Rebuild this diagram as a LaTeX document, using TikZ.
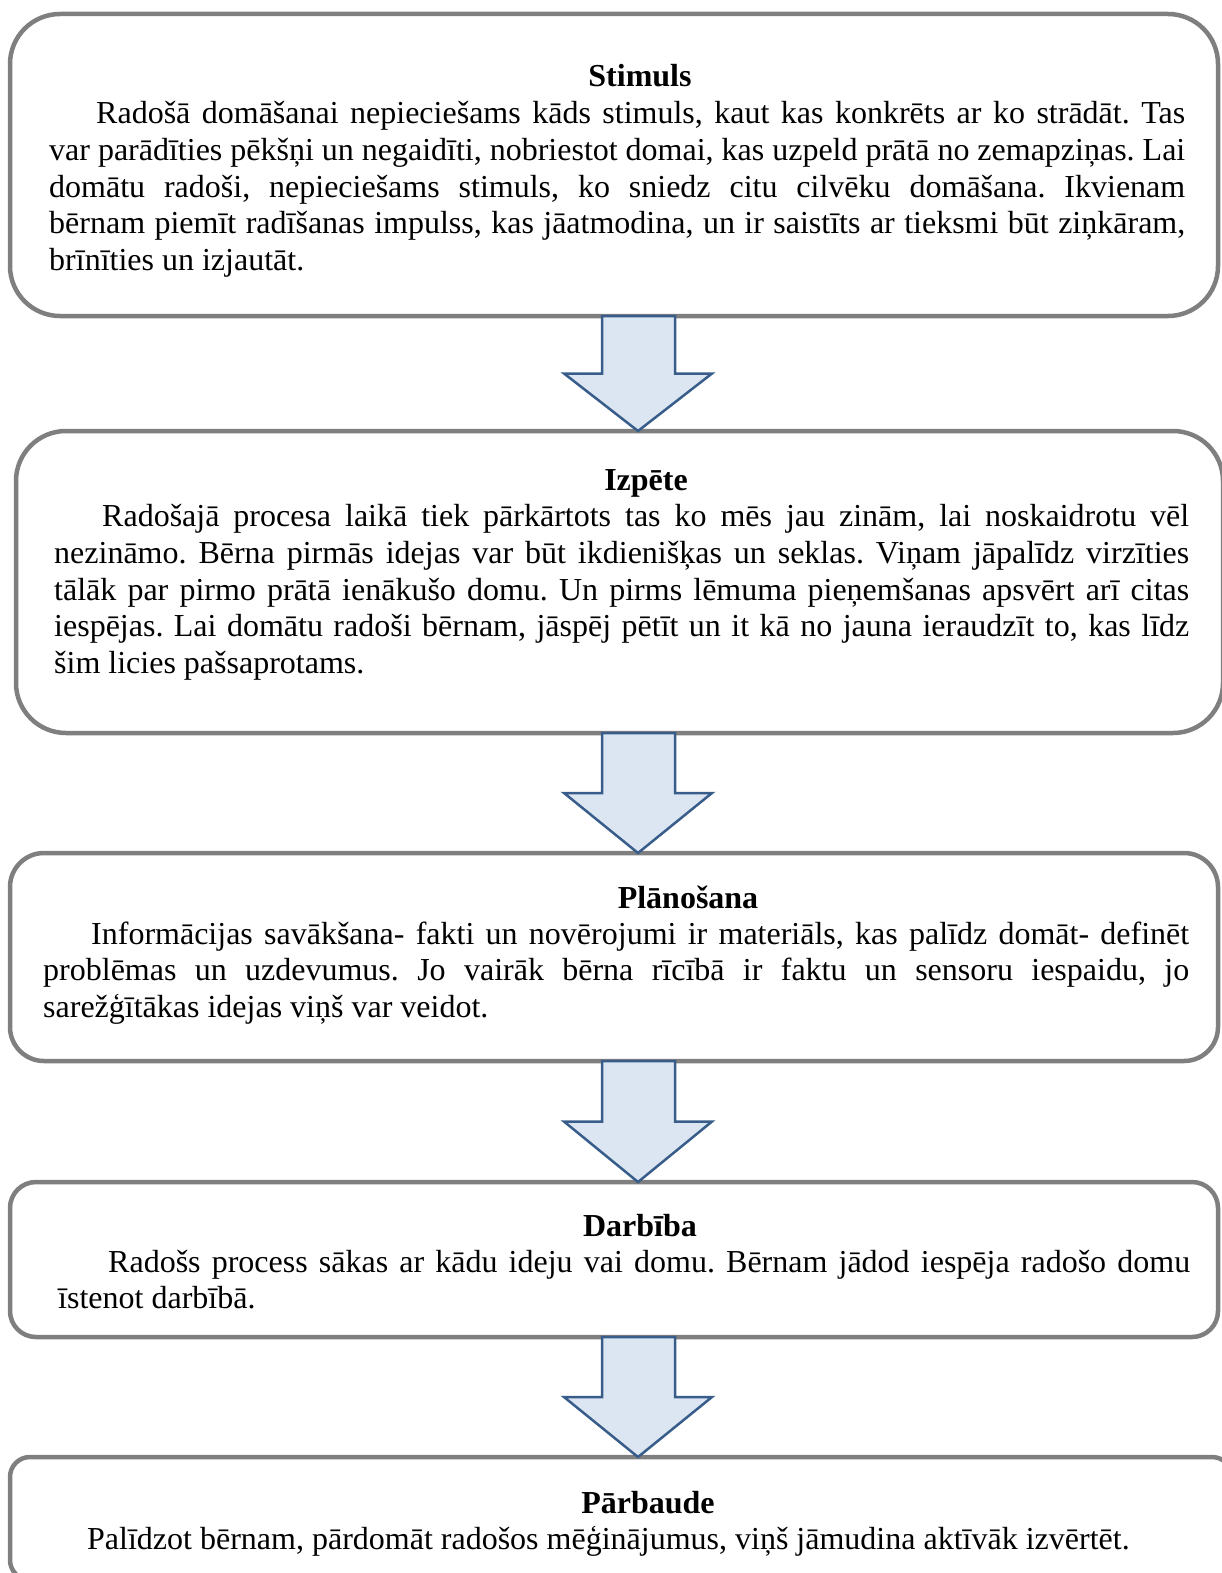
\documentclass[tikz,border=0pt]{standalone}
\usepackage{fontspec}
\setmainfont{Liberation Serif}
\usetikzlibrary{calc}
\definecolor{boxgray}{HTML}{7F7F7F}
\definecolor{arrowline}{HTML}{385D8A}
\definecolor{arrowfill}{HTML}{DCE6F2}
\newcommand\bodyfont{\fontsize{32}{36.8}\selectfont\frenchspacing}
\newcommand\jline[1]{\hbox to \linewidth{#1}}
\newcommand\lline[1]{\hbox{#1}}
\newcommand\blockarrow[2]{%
  \draw[barrow] let \p1=(#1.south), \p2=(#2.north), \p3=($(#1.south)!0.5!(#2.north)$) in
    (602pt,\y1) -- (675pt,\y1) -- (675pt,\y3) -- (712pt,\y3) -- (638pt,\y2)
    -- (564pt,\y3) -- (602pt,\y3) -- cycle;}
\tikzset{
  flowbox/.style={draw=boxgray, line width=4.5pt, fill=white, inner sep=0pt, outer sep=0pt},
  barrow/.style={draw=arrowline, fill=arrowfill, line width=2.5pt, line join=miter},
  ttl/.style={inner sep=0pt, anchor=base, font=\bodyfont\bfseries},
  txt/.style={inner sep=0pt, anchor=base west, align=left},
}
\begin{document}
\begin{tikzpicture}[x=1pt, y=-1pt]
\useasboundingbox (0,0) rectangle (1222,1573);
\clip (0,0) rectangle (1222,1573);

% boxes
\node[flowbox, minimum width=1208, minimum height=302, rounded corners=50] (b1) at (614,165) {};
\node[flowbox, minimum width=1207, minimum height=302, rounded corners=50] (b2) at (619.5,582) {};
\node[flowbox, minimum width=1208, minimum height=208, rounded corners=34] (b3) at (614,957) {};
\node[flowbox, minimum width=1208, minimum height=155, rounded corners=26] (b4) at (614,1259.5) {};
\node[flowbox, minimum width=1222, minimum height=123, rounded corners=20] (b5) at (621,1518.5) {};

% arrows
\blockarrow{b1}{b2}
\blockarrow{b2}{b3}
\blockarrow{b3}{b4}
\blockarrow{b4}{b5}

% box 1
\node[ttl] (h1) at (640,87) {Stimuls};
\node[txt] (p1) at (49,123.5) {\parbox[t]{1136pt}{\bodyfont
\jline{\hspace*{47pt}Radošā domāšanai nepieciešams kāds stimuls, kaut kas konkrēts ar ko strādāt. Tas}
\jline{var parādīties pēkšņi un negaidīti, nobriestot domai, kas uzpeld prātā no zemapziņas. Lai}
\jline{domātu radoši, nepieciešams stimuls, ko sniedz citu cilvēku domāšana. Ikvienam}
\jline{bērnam piemīt radīšanas impulss, kas jāatmodina, un ir saistīts ar tieksmi būt ziņkāram,}
\lline{brīnīties un izjautāt.}}};

% box 2
\node[ttl] (h2) at (646,490.5) {Izpēte};
\node[txt] (p2) at (54,526.5) {\parbox[t]{1135pt}{\bodyfont
\jline{\hspace*{48pt}Radošajā procesa laikā tiek pārkārtots tas ko mēs jau zinām, lai noskaidrotu vēl}
\jline{nezināmo. Bērna pirmās idejas var būt ikdienišķas un seklas. Viņam jāpalīdz virzīties}
\jline{tālāk par pirmo prātā ienākušo domu. Un pirms lēmuma pieņemšanas apsvērt arī citas}
\jline{iespējas. Lai domātu radoši bērnam, jāspēj pētīt un it kā no jauna ieraudzīt to, kas līdz}
\lline{šim licies pašsaprotams.}}};

% box 3
\node[ttl] (h3) at (688,908) {Plānošana};
\node[txt] (p3) at (43,944) {\parbox[t]{1146pt}{\bodyfont
\jline{\hspace*{48pt}Informācijas savākšana- fakti un novērojumi ir materiāls, kas palīdz domāt- definēt}
\jline{problēmas un uzdevumus. Jo vairāk bērna rīcībā ir faktu un sensoru iespaidu, jo}
\lline{sarežģītākas idejas viņš var veidot.}}};

% box 4
\node[ttl] (h4) at (640,1236) {Darbība};
\node[txt] (p4) at (58,1272) {\parbox[t]{1132pt}{\bodyfont
\jline{\hspace*{50pt}Radošs process sākas ar kādu ideju vai domu. Bērnam jādod iespēja radošo domu}
\lline{īstenot darbībā.}}};

% box 5
\node[ttl] (h5) at (648,1513) {Pārbaude};
\node[txt] (p5) at (87,1549) {\bodyfont Palīdzot bērnam, pārdomāt radošos mēģinājumus, viņš jāmudina aktīvāk izvērtēt.};
\end{tikzpicture}
\end{document}
